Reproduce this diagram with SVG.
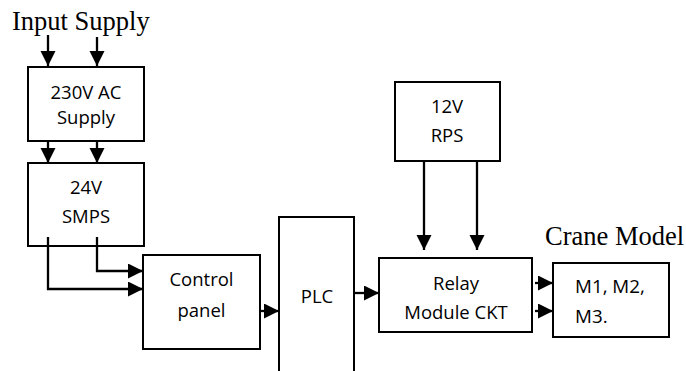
<svg xmlns="http://www.w3.org/2000/svg" width="686" height="371" viewBox="0 0 686 371">
<style>
.box{fill:#fff;stroke:#000;stroke-width:2}
.t{font-family:"Open Sans","Liberation Sans",sans-serif;font-size:18.5px;fill:#000;text-anchor:middle}
.tl{font-family:"Open Sans","Liberation Sans",sans-serif;font-size:18.8px;fill:#000}
.s{font-family:"Liberation Serif","Times New Roman",serif;font-size:26.5px;fill:#000}
.c{fill:none;stroke:#000;stroke-width:2.3}
</style>
<defs>
<marker id="ah" markerUnits="userSpaceOnUse" markerWidth="16" markerHeight="16" refX="15" refY="7.5" orient="auto">
<path d="M0,0 L15,7.5 L0,15 z" fill="#000"/>
</marker>
</defs>
<text class="s" x="12" y="30">Input Supply</text>
<text class="s" x="545" y="245">Crane Model</text>
<g id="ac230">
<rect class="box" x="28" y="67" width="116" height="74"/>
<text class="t" x="86" y="99">230V AC</text>
<text class="t" x="86" y="124">Supply</text>
</g>
<g id="smps">
<rect class="box" x="28" y="163" width="116" height="83"/>
<text class="t" x="86" y="194">24V</text>
<text class="t" x="86" y="223">SMPS</text>
</g>
<g id="control">
<rect class="box" x="143" y="255" width="117" height="94"/>
<text class="t" x="201.5" y="286">Control</text>
<text class="t" x="201.5" y="317">panel</text>
</g>
<g id="plc">
<path class="box" d="M279,372 V217 H354 V372" fill="none"/>
<text class="t" x="317" y="303">PLC</text>
</g>
<g id="rps">
<rect class="box" x="395" y="82" width="105" height="79"/>
<text class="t" x="447" y="113">12V</text>
<text class="t" x="447" y="142">RPS</text>
</g>
<g id="relay">
<rect class="box" x="379" y="258" width="153" height="74"/>
<text class="t" x="456" y="290">Relay</text>
<text class="t" x="456" y="319">Module CKT</text>
</g>
<g id="motors">
<rect class="box" x="553" y="263" width="116" height="74"/>
<text class="tl" x="575" y="293">M1, M2,</text>
<text class="tl" x="575" y="323">M3.</text>
</g>
<g id="connectors">
<path class="c" d="M48,35 V66" marker-end="url(#ah)"/>
<path class="c" d="M97,37 V66" marker-end="url(#ah)"/>
<path class="c" d="M48,141 V163" marker-end="url(#ah)"/>
<path class="c" d="M97,141 V163" marker-end="url(#ah)"/>
<path class="c" d="M48,237 V289 H143" marker-end="url(#ah)"/>
<path class="c" d="M97,237 V271 H143" marker-end="url(#ah)"/>
<path class="c" d="M260,311 H279" marker-end="url(#ah)"/>
<path class="c" d="M354,293 H379" marker-end="url(#ah)"/>
<path class="c" d="M424,161 V250" marker-end="url(#ah)"/>
<path class="c" d="M477,161 V250" marker-end="url(#ah)"/>
<path class="c" d="M535,283 H553" marker-end="url(#ah)"/>
<path class="c" d="M535,311 H553" marker-end="url(#ah)"/>
</g>
</svg>
